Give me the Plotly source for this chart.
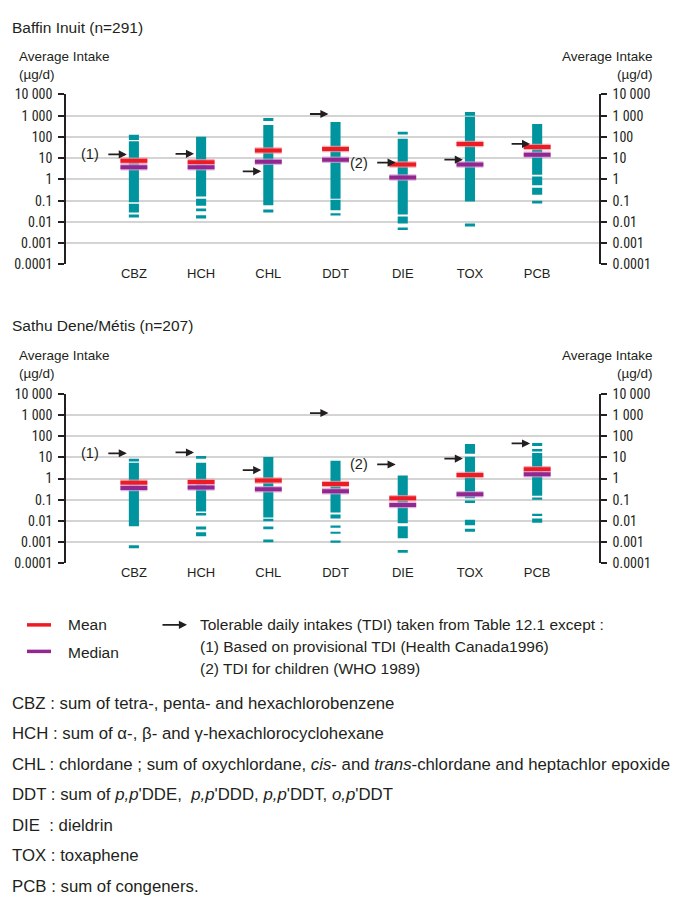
import math
import plotly.graph_objects as go

W, H = 673, 903
NARROW = "Liberation Sans Narrow, Arial Narrow, Roboto Condensed, DejaVu Sans Condensed, Liberation Sans, sans-serif"
SANS = "Liberation Sans, Arial, Helvetica, sans-serif"
INK = "#231f20"
TEAL = "#00949e"
RED = "#ed1c24"
PURPLE = "#92278f"
GRID = "#d4d4d4"

categories = ["CBZ", "HCH", "CHL", "DDT", "DIE", "TOX", "PCB"]
ytick_vals = [1e-4, 1e-3, 1e-2, 1e-1, 1, 10, 100, 1000, 10000]
ytick_text = ["0.0001", "0.001", "0.01", "0.1", "1", "10", "100", "1 000", "10 000"]
tdi_notes = ["(1)", "", "", "", "(2)", "", ""]

# Baffin Inuit: observed intake ranges as (low, high) segments per compound
baffin_seg_cat = ["CBZ", "CBZ", "CBZ", "CBZ",
                  "HCH", "HCH", "HCH", "HCH",
                  "CHL", "CHL", "CHL",
                  "DDT", "DDT", "DDT",
                  "DIE", "DIE", "DIE", "DIE",
                  "TOX", "TOX", "TOX",
                  "PCB", "PCB", "PCB", "PCB"]
baffin_seg_low = [0.016, 0.028, 0.083, 72,
                  0.0144, 0.0316, 0.058, 0.157,
                  0.028, 0.060, 566,
                  0.0206, 0.035, 0.122,
                  0.0041, 0.0085, 0.022, 141,
                  0.0061, 0.092, 1000,
                  0.074, 0.187, 0.53, 1.64]
baffin_seg_high = [0.022, 0.072, 62, 127,
                   0.0206, 0.043, 0.122, 102,
                   0.038, 369, 780,
                   0.0255, 0.110, 508,
                   0.0055, 0.0178, 83, 175,
                   0.0085, 900, 1480,
                   0.099, 0.41, 1.37, 410]
baffin_mean = [7.6, 6.4, 23, 27, 5.1, 47, 34]
baffin_median = [3.7, 3.7, 6.8, 8.5, 1.24, 5.0, 14.4]
baffin_tdi = [15, 16, 2.4, 1200, 6.2, 8.5, 47]

# Sathu Dene/Metis
sathu_seg_cat = ["CBZ", "CBZ", "CBZ",
                 "HCH", "HCH", "HCH", "HCH", "HCH",
                 "CHL", "CHL", "CHL", "CHL",
                 "DDT", "DDT", "DDT", "DDT", "DDT",
                 "DIE", "DIE", "DIE",
                 "TOX", "TOX", "TOX", "TOX", "TOX", "TOX",
                 "PCB", "PCB", "PCB", "PCB", "PCB", "PCB"]
sathu_seg_low = [0.00051, 0.0056, 6.4,
                 0.0019, 0.0039, 0.018, 0.0276, 8.5,
                 0.00097, 0.0040, 0.0095, 0.0145,
                 0.0010, 0.0026, 0.0050, 0.0131, 0.0248,
                 0.00031, 0.0015, 0.0077,
                 0.0000566, 0.0031, 0.0062, 0.069, 0.118, 14.9,
                 0.0082, 0.0168, 0.099, 0.152, 19, 34]
sathu_seg_high = [0.00071, 5.5, 8.5,
                  0.0029, 0.0054, 0.0239, 5.5, 11.6,
                  0.00134, 0.0054, 0.0126, 10.4,
                  0.0012, 0.0031, 0.0060, 0.020, 6.8,
                  0.00042, 0.0056, 1.38,
                  0.0000726, 0.0043, 0.0113, 0.092, 10.5, 43,
                  0.0131, 0.0215, 0.127, 16, 25, 48]
sathu_mean = [0.63, 0.68, 0.81, 0.55, 0.118, 1.48, 2.7]
sathu_median = [0.36, 0.38, 0.31, 0.25, 0.056, 0.18, 1.59]
sathu_tdi = [15.5, 17, 2.5, 1230, 4.6, 8.7, 45]


def px(x):
    return x / W


def py(y):
    return 1 - y / H


fig = go.Figure()
annotations = []
shapes = []


def tick_line(values, xa, ya, color, halo):
    xs, ys = [], []
    for i, v in enumerate(values):
        xs += [i - 0.2, i + 0.2, None]
        ys += [v, v, None]
    fig.add_trace(go.Scatter(x=xs, y=ys, mode="lines", xaxis=xa, yaxis=ya,
                             line=dict(color=halo, width=6.5), cliponaxis=False,
                             hoverinfo="skip", showlegend=False))
    fig.add_trace(go.Scatter(x=xs, y=ys, mode="lines", xaxis=xa, yaxis=ya,
                             line=dict(color=color, width=4), cliponaxis=False,
                             hoverinfo="skip", showlegend=False))


def panel(xa, ya, ya_right, seg_cat, seg_low, seg_high, mean, median, tdi):
    idx = [categories.index(c) for c in seg_cat]
    fig.add_trace(go.Bar(x=idx, base=seg_low,
                         y=[h - l for l, h in zip(seg_low, seg_high)],
                         width=0.15, marker=dict(color=TEAL, line=dict(width=0)),
                         xaxis=xa, yaxis=ya, cliponaxis=False,
                         hoverinfo="skip", showlegend=False))
    tick_line(mean, xa, ya, RED, "rgba(244,150,160,0.75)")
    tick_line(median, xa, ya, PURPLE, "rgba(214,160,214,0.75)")
    # keeps the right-hand axis alive
    fig.add_trace(go.Scatter(x=[0], y=[1], xaxis=xa, yaxis=ya_right, mode="markers",
                             marker=dict(opacity=0), hoverinfo="skip", showlegend=False))
    for i, t in enumerate(tdi):
        annotations.append(dict(x=i - 0.105, y=math.log10(t), xref=xa, yref=ya,
                                ax=-20, ay=0, axref="pixel", ayref="pixel",
                                text="", showarrow=True, arrowhead=2, arrowsize=0.9,
                                arrowwidth=1.8, arrowcolor=INK, standoff=0))
        if tdi_notes[i]:
            annotations.append(dict(x=i - 0.105, y=math.log10(t), xref=xa, yref=ya,
                                    xshift=-26, xanchor="right", yanchor="middle",
                                    text=tdi_notes[i], showarrow=False,
                                    font=dict(size=14.5, color=INK, family=SANS)))


panel("x", "y", "y2", baffin_seg_cat, baffin_seg_low, baffin_seg_high,
      baffin_mean, baffin_median, baffin_tdi)
panel("x2", "y3", "y4", sathu_seg_cat, sathu_seg_low, sathu_seg_high,
      sathu_mean, sathu_median, sathu_tdi)

x_dom = [px(66), px(599)]
top_dom = [py(261), py(88)]
bot_dom = [py(565.3), py(392.7)]

xaxis_common = dict(range=[-1.01, 6.92], tickmode="array", tickvals=list(range(len(categories))),
                    ticktext=categories, showgrid=False, zeroline=False, showline=False,
                    ticks="", tickfont=dict(size=13, color=INK, family=SANS), fixedrange=True)
yaxis_common = dict(type="log", range=[-4, 4], tickmode="array", tickvals=ytick_vals,
                    ticktext=ytick_text, showline=True, linecolor=INK, linewidth=1.5,
                    ticks="outside", ticklen=6, tickwidth=1.5, tickcolor=INK,
                    ticklabelstandoff=3,
                    tickfont=dict(size=14, color=INK, family=NARROW), zeroline=False)

fig.update_layout(
    width=W, height=H, margin=dict(l=0, r=0, t=0, b=0),
    paper_bgcolor="white", plot_bgcolor="white", barmode="overlay",
    font=dict(family=SANS, color=INK),
    xaxis=dict(domain=x_dom, anchor="y", **xaxis_common),
    xaxis2=dict(domain=x_dom, anchor="y3", **xaxis_common),
    yaxis=dict(domain=top_dom, anchor="x", side="left", showgrid=True,
               gridcolor=GRID, gridwidth=1.5, **yaxis_common),
    yaxis2=dict(anchor="x", overlaying="y", side="right", showgrid=False, **yaxis_common),
    yaxis3=dict(domain=bot_dom, anchor="x2", side="left", showgrid=True,
                gridcolor=GRID, gridwidth=1.5, **yaxis_common),
    yaxis4=dict(anchor="x2", overlaying="y3", side="right", showgrid=False, **yaxis_common),
)


def text(x, y, s, size=15.5, xanchor="left", align="left"):
    annotations.append(dict(x=px(x), y=py(y), xref="paper", yref="paper", text=s,
                            showarrow=False, xanchor=xanchor, yanchor="middle", align=align,
                            font=dict(size=size, color=INK, family=SANS)))


# panel titles and axis captions
text(10, 20, "Baffin Inuit (n=291)")
text(17, 59, "Average Intake<br>(µg/d)", size=13.5)
text(655, 59, "Average Intake<br>(µg/d)", size=13.5, xanchor="right", align="right")
text(10, 323, "Sathu Dene/Métis (n=207)")
text(17, 363, "Average Intake<br>(µg/d)", size=13.5)
text(655, 363, "Average Intake<br>(µg/d)", size=13.5, xanchor="right", align="right")

# key
shapes.append(dict(type="line", xref="paper", yref="paper", x0=px(27), x1=px(51),
                   y0=py(628), y1=py(628), line=dict(color=RED, width=3.5)))
shapes.append(dict(type="line", xref="paper", yref="paper", x0=px(27), x1=px(51),
                   y0=py(655), y1=py(655), line=dict(color=PURPLE, width=3.5)))
text(66, 628, "Mean")
text(66, 656.5, "Median")
annotations.append(dict(x=px(187), y=py(628), xref="paper", yref="paper", ax=-26, ay=0,
                        text="", showarrow=True, arrowhead=2, arrowsize=0.9, arrowwidth=1.8,
                        arrowcolor=INK, standoff=0))
text(198, 628, "Tolerable daily intakes (TDI) taken from Table 12.1 except :")
text(198, 650, "(1) Based on provisional TDI (Health Canada1996)")
text(198, 672, "(2) TDI for children (WHO 1989)")

# abbreviations
footnotes = [
    "CBZ : sum of tetra-, penta- and hexachlorobenzene",
    "HCH : sum of α-, β- and γ-hexachlorocyclohexane",
    "CHL : chlordane ; sum of oxychlordane, <i>cis</i>- and <i>trans</i>-chlordane and heptachlor epoxide",
    "DDT : sum of <i>p,p</i>'DDE, \u00a0<i>p,p</i>'DDD, <i>p,p</i>'DDT, <i>o,p</i>'DDT",
    "DIE \u00a0: dieldrin",
    "TOX : toxaphene",
    "PCB : sum of congeners.",
]
for k, s in enumerate(footnotes):
    text(10, 708 + 31 * k, s, size=16.8)

fig.update_layout(annotations=annotations, shapes=shapes)
fig.write_html("out.html")
